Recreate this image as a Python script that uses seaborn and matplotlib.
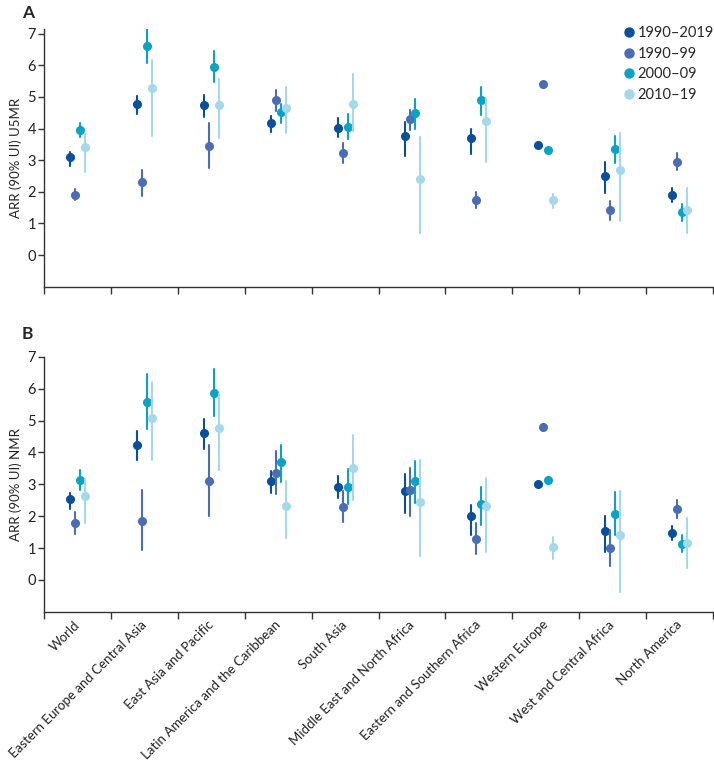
import pandas as pd
import matplotlib
matplotlib.use('Agg')
import matplotlib.pyplot as plt
from matplotlib.lines import Line2D
import seaborn as sns

regions = ["World", "Eastern Europe and Central Asia", "East Asia and Pacific",
           "Latin America and the Caribbean", "South Asia", "Middle East and North Africa",
           "Eastern and Southern Africa", "Western Europe", "West and Central Africa",
           "North America"]
periods = ["1990\u20132019", "1990\u201399", "2000\u201309", "2010\u201319"]
colors = ["#0a4f9c", "#4a6db4", "#0aa3c6", "#a5d9ea"]

# Panel A: U5MR ARR estimate, lower and upper per period
u5_est_all = [3.11, 4.79, 4.75, 4.17, 4.03, 3.76, 3.69, 3.49, 2.51, 1.90]
u5_lo_all  = [2.83, 4.45, 4.37, 3.88, 3.74, 3.14, 3.20, 3.49, 1.95, 1.69]
u5_hi_all  = [3.27, 5.03, 5.06, 4.40, 4.32, 4.21, 3.98, 3.49, 2.93, 2.11]
u5_est_90  = [1.91, 2.30, 3.46, 4.90, 3.22, 4.29, 1.74, 5.40, 1.43, 2.95]
u5_lo_90   = [1.74, 1.88, 2.76, 4.56, 2.90, 3.95, 1.50, 5.40, 1.11, 2.69]
u5_hi_90   = [2.08, 2.69, 4.16, 5.21, 3.53, 4.60, 1.98, 5.40, 1.72, 3.24]
u5_est_00  = [3.95, 6.60, 5.95, 4.51, 4.04, 4.50, 4.90, 3.32, 3.34, 1.36]
u5_lo_00   = [3.74, 6.08, 5.46, 4.19, 3.66, 3.98, 4.43, 3.32, 2.90, 1.09]
u5_hi_00   = [4.16, 7.14, 6.45, 4.79, 4.46, 4.95, 5.30, 3.32, 3.77, 1.62]
u5_est_10  = [3.41, 5.27, 4.73, 4.66, 4.79, 2.41, 4.25, 1.73, 2.69, 1.43]
u5_lo_10   = [2.63, 3.76, 3.69, 3.87, 3.93, 0.69, 2.95, 1.50, 1.08, 0.71]
u5_hi_10   = [3.85, 6.18, 5.56, 5.30, 5.72, 3.74, 4.98, 1.93, 3.87, 2.13]

# Panel B: NMR ARR
nm_est_all = [2.54, 4.22, 4.60, 3.11, 2.92, 2.80, 2.00, 3.00, 1.52, 1.47]
nm_lo_all  = [2.24, 3.75, 4.11, 2.74, 2.58, 2.11, 1.42, 3.00, 0.89, 1.24]
nm_hi_all  = [2.74, 4.66, 5.05, 3.43, 3.26, 3.32, 2.35, 3.00, 2.01, 1.69]
nm_est_90  = [1.78, 1.86, 3.09, 3.37, 2.29, 2.81, 1.28, 4.81, 1.00, 2.22]
nm_lo_90   = [1.44, 0.93, 2.00, 2.69, 1.82, 2.00, 0.80, 4.69, 0.43, 1.95]
nm_hi_90   = [2.12, 2.82, 4.24, 4.06, 2.79, 3.51, 1.77, 4.91, 1.58, 2.51]
nm_est_00  = [3.15, 5.57, 5.86, 3.71, 2.93, 3.09, 2.37, 3.13, 2.08, 1.14]
nm_lo_00   = [2.82, 4.75, 5.14, 3.07, 2.37, 2.42, 1.72, 3.01, 1.42, 0.87]
nm_hi_00   = [3.45, 6.45, 6.61, 4.24, 3.49, 3.72, 2.93, 3.24, 2.75, 1.40]
nm_est_10  = [2.62, 5.09, 4.76, 2.33, 3.51, 2.44, 2.31, 1.02, 1.41, 1.15]
nm_lo_10   = [1.79, 3.75, 3.45, 1.32, 2.51, 0.74, 0.87, 0.65, -0.39, 0.37]
nm_hi_10   = [3.16, 6.21, 5.85, 3.12, 4.56, 3.77, 3.19, 1.35, 2.79, 1.93]


def long_table(series):
    # three rows per point (lower, estimate, upper): median = estimate, full range = UI
    rows = []
    for period, (est, lo, hi) in zip(periods, series):
        for r, e, l, h in zip(regions, est, lo, hi):
            for v in (l, e, h):
                rows.append({"region": r, "period": period, "value": v})
    return pd.DataFrame(rows)


df_u5 = long_table([(u5_est_all, u5_lo_all, u5_hi_all), (u5_est_90, u5_lo_90, u5_hi_90),
                    (u5_est_00, u5_lo_00, u5_hi_00), (u5_est_10, u5_lo_10, u5_hi_10)])
df_nm = long_table([(nm_est_all, nm_lo_all, nm_hi_all), (nm_est_90, nm_lo_90, nm_hi_90),
                    (nm_est_00, nm_lo_00, nm_hi_00), (nm_est_10, nm_lo_10, nm_hi_10)])

sns.set_style("ticks")
plt.rcParams['font.family'] = ['Lato', 'DejaVu Sans']

fig = plt.figure(figsize=(7.14, 7.65), dpi=100)
ax_a = fig.add_axes([0.0623, 0.6252, 0.936, 0.337])
ax_b = fig.add_axes([0.0623, 0.2004, 0.936, 0.333])

for ax, df, ylab, ytop, letter in [(ax_a, df_u5, "ARR (90% UI) U5MR", 7.15, "A"),
                                   (ax_b, df_nm, "ARR (90% UI) NMR", 7.0, "B")]:
    sns.pointplot(data=df, x="region", y="value", hue="period", order=regions,
                  hue_order=periods, palette=colors, estimator="median",
                  errorbar=("pi", 100), dodge=0.225, linestyle="none",
                  markers="o", markersize=4.5, err_kws={"linewidth": 1.5},
                  legend=False, ax=ax)
    ax.set_xlim(-0.5, 9.5)
    ax.set_ylim(-1, ytop)
    ax.set_yticks(range(0, 8))
    ax.set_xticks([i - 0.5 for i in range(11)])
    ax.set_xticks(range(10), minor=True)
    ax.set_xticklabels([])
    ax.tick_params(axis="x", which="major", length=5, width=1, color="#333333")
    ax.tick_params(axis="x", which="minor", length=0)
    ax.tick_params(axis="y", length=4, width=1, color="#333333", labelsize=10.5,
                   labelcolor="#222222", pad=2)
    ax.set_xlabel("")
    ax.set_ylabel(ylab, fontsize=9.5, color="#222222", labelpad=4)
    for s in ("left", "bottom"):
        ax.spines[s].set_color("#333333")
        ax.spines[s].set_linewidth(1)
    sns.despine(ax=ax)
    ax.text(-0.034, 1.03 if letter == "A" else 1.06, letter, transform=ax.transAxes,
            fontsize=12.5, fontweight="bold", ha="left", va="bottom")

ax_b.set_xticklabels(regions, minor=True, rotation=45, ha="right", va="center",
                     rotation_mode="anchor", fontsize=9.5, color="#222222")
ax_b.tick_params(axis="x", which="minor", pad=8)

handles = [Line2D([], [], marker="o", linestyle="none", markersize=6.5, color=c)
           for c in colors]
ax_a.legend(handles, periods, loc="upper right", bbox_to_anchor=(1.015, 1.045),
            frameon=False, fontsize=10.5, handletextpad=0.1, labelspacing=0.45,
            handlelength=1.0, borderaxespad=0.2)

fig.savefig("out.png", dpi=100)
plt.close(fig)
